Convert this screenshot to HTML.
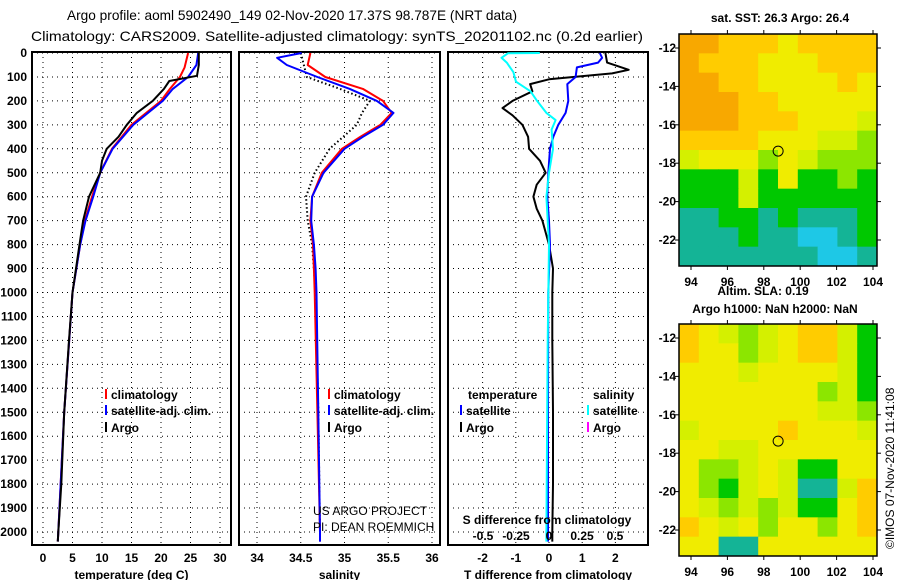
<!DOCTYPE html>
<html><head><meta charset="utf-8"><style>
html,body{margin:0;padding:0;background:#fff}
svg{display:block;font-family:"Liberation Sans",sans-serif}
.b{font-weight:bold;font-size:12px}
</style></head><body>
<svg id="svg" width="900" height="580" viewBox="0 0 900 580" xmlns="http://www.w3.org/2000/svg">
<text x="67" y="20" font-size="14" textLength="450" lengthAdjust="spacingAndGlyphs">Argo profile: aoml 5902490_149 02-Nov-2020 17.37S 98.787E (NRT data)</text>
<text x="31" y="41" font-size="14" textLength="612" lengthAdjust="spacingAndGlyphs">Climatology: CARS2009. Satellite-adjusted climatology: synTS_20201102.nc (0.2d earlier)</text>
<g id="plots"></g>
<text x="780" y="22" text-anchor="middle" class="b">sat. SST: 26.3 Argo: 26.4</text>
<text x="763" y="295" text-anchor="middle" class="b">Altim. SLA: 0.19</text>
<text x="775" y="313" text-anchor="middle" class="b">Argo h1000: NaN h2000: NaN</text>
<text transform="translate(894,549) rotate(-90)" font-size="12">©IMOS 07-Nov-2020 11:41:08</text>
<text x="313" y="515" font-size="12">US ARGO PROJECT</text>
<text x="313" y="531" font-size="12">PI: DEAN ROEMMICH</text>
</svg>
<script>
// ---- data ----
const depthTicks=[0,100,200,300,400,500,600,700,800,900,1000,1100,1200,1300,1400,1500,1600,1700,1800,1900,2000];
const tempTicks=[0,5,10,15,20,25,30];
const salTicks=[34,34.5,35,35.5,36];
const diffTicks=[-2,-1,0,1,2];
const sdiffTicks=[-0.5,-0.25,0,0.25,0.5];
const tClimDepth=[0,60,100,150,200,300,400,500,600,700,800,1000,1500,2000,2040];
const tClim=[24.6,24,23.2,21.5,20,15,11.7,9.7,8.3,7.1,6.3,5,3.6,2.6,2.5];
const tSatDepth=[0,50,100,150,200,300,400,500,600,700,800,1000,1500,2000,2040];
const tSat=[26.3,26,24.6,22,20.3,15.3,11.8,9.7,8.5,7.2,6.3,5,3.6,2.6,2.5];
const tArgoDepth=[0,50,95,117,150,200,250,300,350,400,450,500,600,700,780,1000,1200,1500,1800,2000,2040];
const tArgo=[26.4,26.4,26.1,21.4,20.5,18.6,15.9,14.2,12.8,10.8,10,9.7,7.8,6.8,6.3,5,4.4,3.6,3.1,2.6,2.5];
const sClimDepth=[0,50,100,150,200,250,300,350,400,500,600,700,800,900,1000,1500,2000,2040];
const sClim=[34.61,34.58,34.78,35.21,35.44,35.54,35.41,35.18,34.97,34.74,34.63,34.61,34.64,34.65,34.66,34.69,34.72,34.72];
const sSatDepth=[0,20,50,100,150,200,250,300,350,400,500,600,700,800,900,1000,1500,2000,2040];
const sSat=[34.51,34.23,34.34,34.69,35.06,35.37,35.56,35.44,35.21,35.0,34.76,34.63,34.62,34.65,34.67,34.68,34.7,34.72,34.72];
const sArgoDepth=[0,100,150,200,250,300,400,500,600,700,800,1000,1500,2000];
const sArgo=[34.5,34.57,34.95,35.29,35.2,35.14,34.83,34.66,34.56,34.58,34.63,34.67,34.7,34.72];
const dTArgoDepth=[0,40,70,85,110,130,160,200,230,260,300,350,400,450,500,550,600,650,700,750,800,900,1000,1200,1500,1800,2000,2040];
const dTArgo=[1.7,1.75,2.4,1.9,0,-0.57,-0.5,-1.1,-1.4,-1.1,-0.8,-0.63,-0.6,-0.27,-0.1,-0.37,-0.47,-0.37,-0.2,-0.1,0,0.12,0.1,0.1,0.12,0.12,0.1,0.1];
const dTSatDepth=[0,20,40,60,100,130,200,250,300,350,400,500,600,700,800,1000,1500,2000,2040];
const dTSat=[1.53,1.6,1.48,0.84,0.8,0.55,0.58,0.5,0.28,0.13,0.03,-0.02,-0.05,0,0.03,-0.02,-0.03,-0.03,-0.03];
const dSSatDepth=[0,1,20,40,80,120,160,200,250,280,320,400,500,600,800,1200,2000,2040];
const dSSat=[-0.07,-0.31,-0.36,-0.32,-0.27,-0.25,-0.14,-0.09,-0.02,0.05,0.02,0.03,0,-0.02,0,-0.01,-0.02,-0.02];
const lonTicks=[94,96,98,100,102,104];
const latTicks=[-12,-14,-16,-18,-20,-22];
const sstGrid=[
[7,7,6,6,6,5,6,6,6,6],[7,6,6,6,5,5,5,6,6,6],[7,7,6,6,5,5,5,5,6,5],[7,7,7,6,6,5,5,5,5,5],
[7,7,7,6,6,6,5,5,5,4],[6,6,6,6,5,5,5,4,4,3],[4,5,5,5,3,5,4,3,3,3],[2,2,2,4,2,5,2,2,3,2],
[2,2,2,4,2,2,2,2,2,2],[1,1,2,2,1,2,1,1,1,2],[1,1,1,2,1,1,0,0,1,2],[1,1,1,1,1,1,1,0,0,1]];
const slaGrid=[
[6,5,4,3,4,5,6,6,4,2],[6,5,5,3,4,5,6,6,4,2],[5,5,5,4,5,5,5,5,4,2],[5,5,5,5,5,5,5,3,4,2],
[5,5,5,5,5,5,5,4,4,3],[4,5,5,5,5,6,5,5,5,4],[5,5,4,4,5,5,5,5,5,5],[5,3,3,4,5,4,2,2,5,5],
[5,3,2,4,5,4,1,1,4,6],[5,4,3,4,3,4,2,2,5,6],[6,5,4,5,3,5,5,3,5,6],[5,5,1,1,5,5,5,5,5,5]];
const floatLon=98.787, floatLat=-17.37;
// ---- drawing ----
const NS='http://www.w3.org/2000/svg';
const root=document.getElementById('plots');
function mk(tag,attrs,parent){const e=document.createElementNS(NS,tag);for(const k in attrs)e.setAttribute(k,attrs[k]);(parent||root).appendChild(e);return e;}
const top0=52,bot=545;
const yD=d=>53+d*0.2395;
const panels=[{l:32,r:231,x:v=>43+v*5.9,ticks:tempTicks,title:'temperature (deg C)',nm:'temperature'},
{l:239,r:440,x:v=>257+(v-34)*87.5,ticks:salTicks,title:'salinity',nm:'salinity'},
{l:448,r:648,x:v=>549+v*33.2,ticks:diffTicks,title:'T difference from climatology',nm:'t-difference'}];
panels.forEach((p,i)=>{
  const g=mk('g',{});
  
  
  depthTicks.forEach(d=>{const ln=mk('line',{x1:p.l,x2:p.r,y1:yD(d),y2:yD(d),stroke:'#000','stroke-width':1,'stroke-dasharray':'1,4'},g);
    
    if(i===0){const t=mk('text',{x:27,y:yD(d)+4,'text-anchor':'end',class:'b'},g);t.textContent=d;
      }});
  p.ticks.forEach(v=>{const x=p.x(v);const ln=mk('line',{x1:x,x2:x,y1:top0,y2:bot,stroke:'#000','stroke-width':1,'stroke-dasharray':'1,4'},g);
    
    const t=mk('text',{x:x,y:562,'text-anchor':'middle',class:'b'},g);t.textContent=v;
    });
  const fr=mk('rect',{x:p.l,y:top0,width:p.r-p.l,height:bot-top0,fill:'none',stroke:'#000','stroke-width':2},g);
  
  const t=mk('text',{x:(p.l+p.r)/2,y:579,'text-anchor':'middle',class:'b'},g);t.textContent=p.title;
  
});
function series(px,vals,depths,color,name,dash,w){
  const pts=vals.map((v,i)=>px(v).toFixed(1)+','+yD(depths[i]).toFixed(1)).join(' ');
  const a={points:pts,fill:'none',stroke:color,'stroke-width':w||2,'stroke-linejoin':'round'};
  if(dash)a['stroke-dasharray']=dash;
  const e=mk('polyline',a);
  
  
}
const P=panels;
series(P[0].x,tClim,tClimDepth,'#f00','temp-climatology-line');
series(P[0].x,tSat,tSatDepth,'#00f','temp-satellite-line');
series(P[0].x,tArgo,tArgoDepth,'#000','temp-argo-line');
series(P[1].x,sArgo,sArgoDepth,'#000','sal-argo-line','1.5,2.5',2);
series(P[1].x,sClim,sClimDepth,'#f00','sal-climatology-line');
series(P[1].x,sSat,sSatDepth,'#00f','sal-satellite-line');
series(P[2].x,dTArgo,dTArgoDepth,'#000','tdiff-argo-line');
series(P[2].x,dTSat,dTSatDepth,'#00f','tdiff-satellite-line');
const sx=v=>549+v*132;
series(sx,dSSat,dSSatDepth,'#0ff','sdiff-satellite-line');
// S diff axis labels
{const t=mk('text',{x:547,y:524,'text-anchor':'middle',class:'b'});t.textContent='S difference from climatology';
 
 sdiffTicks.forEach(v=>{const tt=mk('text',{x:sx(v),y:540,'text-anchor':'middle',class:'b'});tt.textContent=v;
 });}
// legends
function legend(x,y,color,label,name){
  const l=mk('line',{x1:x,x2:x,y1:y-10,y2:y,stroke:color,'stroke-width':2});
  
  const t=mk('text',{x:x+5,y:y,class:'b'});t.textContent=label;
  
}
legend(106,399,'#f00','climatology','legend-climatology');
legend(106,415,'#00f','satellite-adj. clim.','legend-satellite');
legend(106,432,'#000','Argo','legend-argo');
legend(329,399,'#f00','climatology','legend-climatology');
legend(329,415,'#00f','satellite-adj. clim.','legend-satellite');
legend(329,432,'#000','Argo','legend-argo');
{const t=mk('text',{x:468,y:399,class:'b'});t.textContent='temperature';
 const s=mk('text',{x:593,y:399,class:'b'});s.textContent='salinity';}
legend(461,415,'#00f','satellite','legend-t-satellite');
legend(461,432,'#000','Argo','legend-t-argo');
legend(588,415,'#0ff','satellite','legend-s-satellite');
legend(588,432,'#f0f','Argo','legend-s-argo');
// maps
const cmap=['#1ec8e6','#14b496','#00c800','#8ce600','#d4f000','#f0ec00','#ffcc00','#f8a800'];
function map(grid,top,bottom,nm){
  const l=679,r=877,lat12=top+14,perLat=19.2;
  const lonX=v=>691+(v-94)*18.2, latY=v=>lat12+(-12-v)*perLat;
  const g=mk('g',{});
  const rows=grid.length,cols=grid[0].length,cw=(r-l)/cols,ch=(bottom-top)/rows;
  grid.forEach((row,i)=>row.forEach((v,j)=>{const c=mk('rect',{x:l+j*cw,y:top+i*ch,width:cw+0.5,height:ch+0.5,fill:cmap[v]},g);
    }));
  const fr=mk('rect',{x:l,y:top,width:r-l,height:bottom-top,fill:'none',stroke:'#000','stroke-width':1.5},g);
  
  lonTicks.forEach(v=>{const x=lonX(v);mk('line',{x1:x,x2:x,y1:top-4,y2:top,stroke:'#000'},g);mk('line',{x1:x,x2:x,y1:bottom,y2:bottom+4,stroke:'#000'},g);
    const t=mk('text',{x:x,y:bottom+20,'text-anchor':'middle',class:'b'},g);t.textContent=v;
    });
  latTicks.forEach(v=>{const y=latY(v);mk('line',{x1:l-4,x2:l,y1:y,y2:y,stroke:'#000'},g);mk('line',{x1:r,x2:r+4,y1:y,y2:y,stroke:'#000'},g);
    const t=mk('text',{x:676,y:y+4,'text-anchor':'end',class:'b'},g);t.textContent=v;
    });
  const c=mk('circle',{cx:lonX(floatLon),cy:latY(floatLat),r:5,fill:'none',stroke:'#000','stroke-width':1},g);
  
}
map(sstGrid,34,266,'sst-map');
map(slaGrid,324,556,'sla-map');
</script>
</body></html>
